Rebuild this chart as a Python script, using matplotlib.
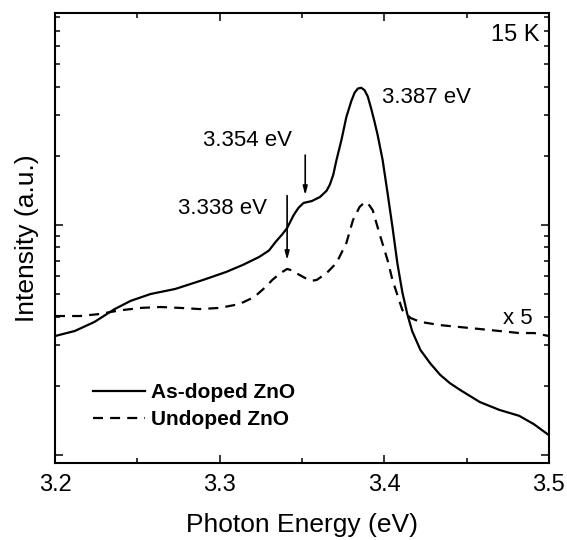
import matplotlib.pyplot as plt
import numpy as np
from matplotlib.ticker import MultipleLocator, LogLocator, NullFormatter

plt.rcParams['font.family'] = ['Liberation Sans', 'DejaVu Sans']

# As-doped ZnO (solid)
e_doped = [3.200, 3.212, 3.224, 3.236, 3.246, 3.258, 3.273, 3.290, 3.304, 3.314,
           3.324, 3.330, 3.334, 3.338, 3.341, 3.345, 3.348, 3.351, 3.356, 3.361,
           3.365, 3.367, 3.369, 3.371, 3.374, 3.377, 3.380, 3.382, 3.384, 3.386,
           3.388, 3.390, 3.392, 3.394, 3.396, 3.399, 3.402, 3.405, 3.408, 3.411,
           3.414, 3.417, 3.422, 3.428, 3.434, 3.440, 3.446, 3.458, 3.470, 3.482,
           3.491, 3.500]
i_doped = [3.29, 3.46, 3.79, 4.30, 4.68, 5.01, 5.27, 5.77, 6.25, 6.70,
           7.26, 7.75, 8.44, 9.10, 9.70, 11.05, 11.90, 12.47, 12.71, 13.24,
           14.10, 15.00, 16.50, 19.17, 23.42, 29.5, 34.6, 37.6, 39.2, 39.5,
           38.6, 36.2, 32.2, 28.3, 24.6, 19.2, 13.8, 9.8, 6.80, 5.10,
           4.10, 3.45, 2.86, 2.50, 2.23, 2.05, 1.92, 1.70, 1.57, 1.48,
           1.36, 1.22]

# Undoped ZnO (dashed, x 5)
e_undoped = [3.200, 3.215, 3.227, 3.239, 3.252, 3.264, 3.276, 3.288, 3.300, 3.312,
             3.321, 3.328, 3.332, 3.337, 3.341, 3.344, 3.347, 3.352, 3.356, 3.359,
             3.365, 3.371, 3.377, 3.381, 3.385, 3.388, 3.390, 3.393, 3.397, 3.402,
             3.405, 3.408, 3.411, 3.416, 3.422, 3.434, 3.446, 3.458, 3.470, 3.482,
             3.491, 3.500]
i_undoped = [4.02, 4.02, 4.10, 4.25, 4.36, 4.40, 4.36, 4.31, 4.36, 4.53,
             4.86, 5.38, 5.77, 6.18, 6.44, 6.35, 6.15, 5.88, 5.72, 5.77,
             6.18, 6.84, 8.35, 10.5, 11.97, 12.55, 12.45, 11.6, 9.23, 7.04,
             5.77, 4.96, 4.27, 3.94, 3.79, 3.67, 3.60, 3.53, 3.46, 3.39,
             3.39, 3.29]

fig = plt.figure(figsize=(5.67, 5.4), dpi=100)
ax = fig.add_axes([0.097, 0.1426, 0.871, 0.8333])

ax.plot(e_doped, i_doped, color='black', lw=1.6, label='As-doped ZnO')
ax.plot(e_undoped, i_undoped, color='black', lw=1.6, dashes=(4.5, 3.2), label='Undoped ZnO')

ax.set_yscale('log')
ax.set_xlim(3.2, 3.5)
ax.set_ylim(0.923, 83.5)

ax.xaxis.set_major_locator(MultipleLocator(0.1))
ax.xaxis.set_minor_locator(MultipleLocator(0.05))
ax.yaxis.set_major_locator(LogLocator(base=10))
ax.yaxis.set_minor_locator(LogLocator(base=10, subs=np.arange(2, 10)))
ax.yaxis.set_major_formatter(NullFormatter())
ax.yaxis.set_minor_formatter(NullFormatter())

ax.tick_params(which='both', direction='in', top=True, right=True, width=1.1)
ax.tick_params(which='major', length=6)
ax.tick_params(which='minor', length=3.6)
ax.tick_params(axis='x', labelsize=17, pad=8)
for s in ax.spines.values():
    s.set_linewidth(1.5)

ax.set_xlabel('Photon Energy (eV)', fontsize=19, labelpad=12)
ax.set_ylabel('Intensity (a.u.)', fontsize=19, labelpad=8)

arrow = dict(arrowstyle='-|>,head_length=0.5,head_width=0.13', color='black', lw=1.2)
ax.annotate('', xy=(3.341, 6.84), xytext=(3.341, 13.8), arrowprops=arrow)
ax.annotate('', xy=(3.352, 13.1), xytext=(3.352, 20.7), arrowprops=arrow)

ax.text(3.3985, 36, '3.387 eV', fontsize=16, va='center', ha='left')
ax.text(3.2899, 23.4, '3.354 eV', fontsize=16, va='center', ha='left')
ax.text(3.2747, 11.8, '3.338 eV', fontsize=16, va='center', ha='left')
ax.text(3.4945, 67, '15 K', fontsize=17, va='center', ha='right')
ax.text(3.472, 3.94, 'x 5', fontsize=16, va='center', ha='left')

ax.legend(loc='upper left', bbox_to_anchor=(0.077, 0.178), frameon=False,
          prop={'weight': 'bold', 'size': 15}, handlelength=2.5,
          handletextpad=0.3, labelspacing=0.4, borderaxespad=0, borderpad=0)

fig.savefig('out.png', dpi=100)
